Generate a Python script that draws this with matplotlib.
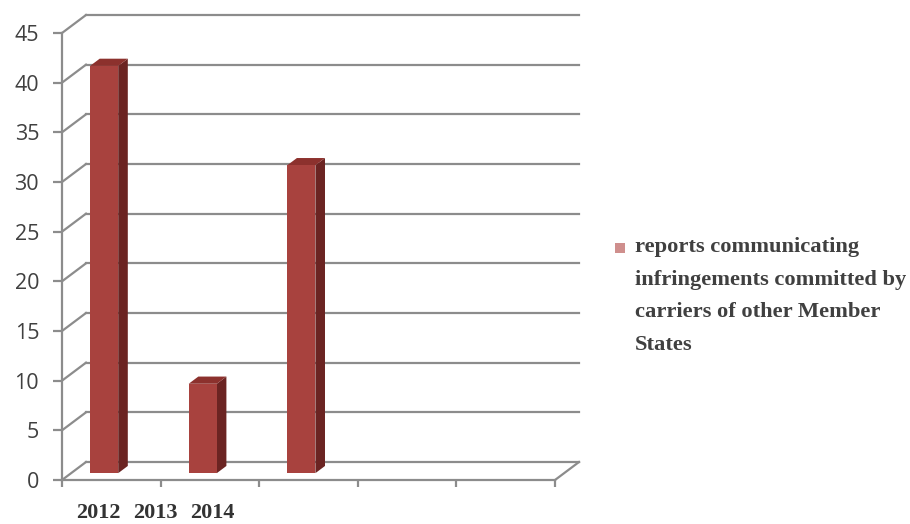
import numpy as np
import matplotlib
matplotlib.use("Agg")
import matplotlib.pyplot as plt
from matplotlib.patches import Polygon, Rectangle

# data
values = [41, 9, 31]
n_slots = 5
year_labels = ["2012", "2013", "2014"]
legend_lines = ["reports communicating", "infringements committed by",
                "carriers of other Member", "States"]
y_ticks = list(range(0, 46, 5))

# colours
grid_col = "#8c8c8c"
front_col = "#a8423e"
side_col = "#6b2422"
top_col = "#8c312d"
text_col = "#404040"

W, H = 910, 524
fig = plt.figure(figsize=(W / 100, H / 100), dpi=100)
# front plane of the pseudo-3D plot: x 62..555 px, y 480..33 px
ax = fig.add_axes([62 / W, (H - 480) / H, 493 / W, 447 / H])
ax.set_xlim(0, n_slots)
ax.set_ylim(0, 45)

# depth offset of back wall (in data units)
dx = 24 / 493 * n_slots
dy = 18 / 447 * 45

for s in ["top", "right"]:
    ax.spines[s].set_visible(False)
for s in ["left", "bottom"]:
    ax.spines[s].set_color(grid_col)
    ax.spines[s].set_linewidth(1.6)

ax.set_yticks(y_ticks)
ax.set_yticklabels([str(t) for t in y_ticks], fontsize=15.5, family="Open Sans", color=text_col)
ax.tick_params(axis="y", direction="out", length=6.5, width=1.6, color=grid_col, pad=10)
ax.set_xticks(np.arange(n_slots + 1))
ax.set_xticklabels([])
ax.tick_params(axis="x", direction="out", length=5, width=1.6, color=grid_col)

# back wall gridlines + side wall slants
for v in y_ticks:
    ax.plot([dx, n_slots + dx], [v + dy, v + dy], color=grid_col, lw=1.6, clip_on=False, zorder=1)
    ax.plot([0, dx], [v, v + dy], color=grid_col, lw=1.6, clip_on=False, zorder=1)
# floor right edge
ax.plot([n_slots, n_slots + dx], [0, dy], color=grid_col, lw=1.6, clip_on=False, zorder=1)

# bars
width = 0.285
f0, f1 = 0.38, 0.78
centers = np.arange(len(values)) + 0.335
for c, v in zip(centers, values):
    xl, xr = c - width / 2, c + width / 2
    x0, y0 = f0 * dx, f0 * dy
    x1, y1 = f1 * dx, f1 * dy
    side = Polygon([(xr + x0, y0), (xr + x1, y1), (xr + x1, v + y1), (xr + x0, v + y0)],
                   closed=True, facecolor=side_col, edgecolor="none", zorder=3, clip_on=False)
    top = Polygon([(xl + x0, v + y0), (xr + x0, v + y0), (xr + x1, v + y1), (xl + x1, v + y1)],
                  closed=True, facecolor=top_col, edgecolor="none", zorder=3, clip_on=False)
    front = Polygon([(xl + x0, y0), (xr + x0, y0), (xr + x0, v + y0), (xl + x0, v + y0)],
                    closed=True, facecolor=front_col, edgecolor="none", zorder=4, clip_on=False)
    for p in (side, top, front):
        ax.add_patch(p)

# year labels (bunched under the first slots, as in the reference)
for i, lab in enumerate(year_labels):
    fig.text((98 + 57 * i) / W, (H - 513) / H, lab, ha="center", va="center",
             fontsize=16, fontweight="bold", family="Liberation Serif", color="#333333")

# legend
fig.add_artist(Rectangle((615 / W, (H - 253) / H), 10 / W, 10 / H,
                         transform=fig.transFigure, facecolor="#cf8f8d", edgecolor="none"))
for i, line in enumerate(legend_lines):
    fig.text(635 / W, (H - (247 + 32.7 * i)) / H, line, ha="left", va="center",
             fontsize=16.2, fontweight="bold", family="Liberation Serif", color=text_col)

fig.savefig("out.png", dpi=100)
